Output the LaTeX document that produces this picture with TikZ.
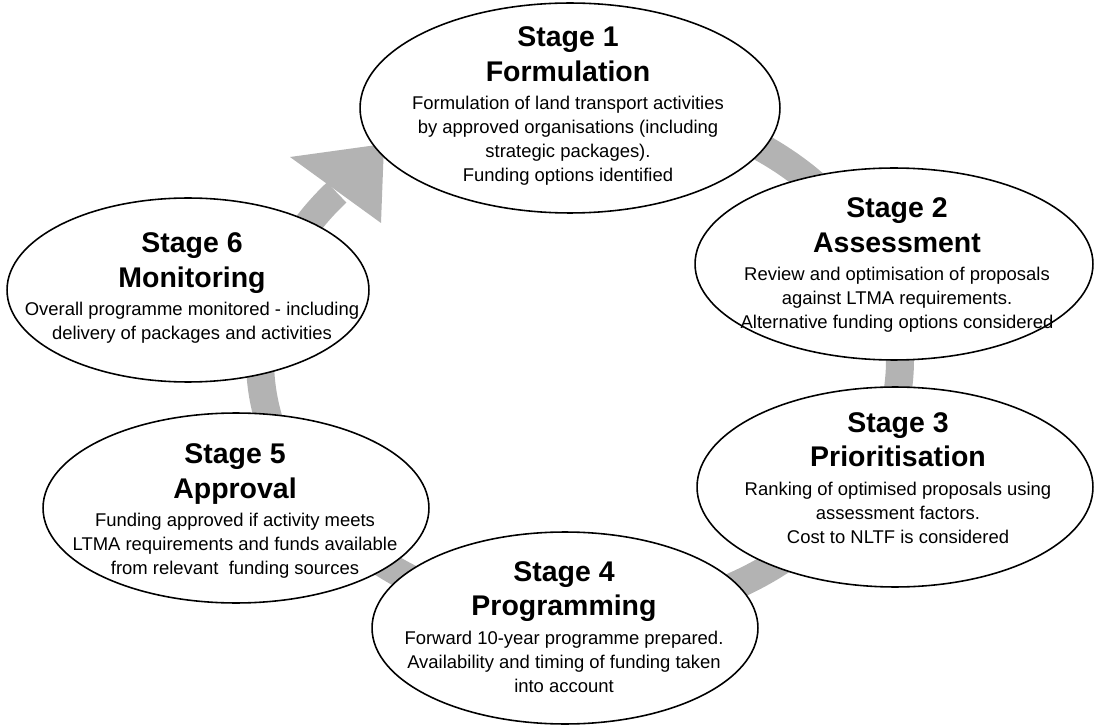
\documentclass[tikz,border=0pt]{standalone}
\usepackage{fontspec}
\setmainfont{Liberation Sans}
\usetikzlibrary{shapes.geometric}

\definecolor{ringgrey}{RGB}{179,179,179}

\newcommand\stghead{\normalfont\fontsize{16.2pt}{19.8pt}\selectfont\bfseries}
\newcommand\stgbody{\normalfont\fontsize{10.5pt}{13.6pt}\selectfont}
% title (two lines) followed by the description
\newcommand\stagetext[3]{%
  \begin{minipage}{9cm}\centering
    \stghead #1\\#2\par
    \vspace{2.8pt}
    \stgbody #3\par
  \end{minipage}}

\tikzset{
  stagebox/.style={ellipse, draw=black, fill=white, line width=0.9pt, inner sep=0pt},
  stagelabel/.style={inner sep=0pt, anchor=center},
  ring/.style={draw=ringgrey, line width=0.56cm, line join=round}
}

\begin{document}
\begin{tikzpicture}[x=0.02cm, y=-0.02cm]
  \useasboundingbox (0,0) rectangle (1096,726);

  % grey cycle band running clockwise, ending in an arrowhead into Stage 1
  \draw[ring] plot[domain=110:-220.5, samples=240, smooth]
    ({580+320*cos(\x)}, {360-258*sin(\x)});
  \fill[ringgrey] (290,157) -- (384,144) -- (381,223) -- cycle;

  % stage ellipses
  \node[stagebox, minimum width=8.4cm,  minimum height=4.2cm]  (s1) at (570,108) {};
  \node[stagebox, minimum width=7.96cm, minimum height=3.84cm] (s2) at (894,264) {};
  \node[stagebox, minimum width=7.92cm, minimum height=4.0cm]  (s3) at (895,487) {};
  \node[stagebox, minimum width=7.72cm, minimum height=3.84cm] (s4) at (565,628) {};
  \node[stagebox, minimum width=7.72cm, minimum height=3.8cm]  (s5) at (236,508) {};
  \node[stagebox, minimum width=7.24cm, minimum height=3.68cm] (s6) at (188,290) {};

  % stage texts
  \node[stagelabel] (t1) at (568,106) {\stagetext{Stage 1}{Formulation}{Formulation of land transport activities\\by approved organisations (including\\strategic packages).\\Funding options identified}};
  \node[stagelabel] (t2) at (897,265) {\stagetext{Stage 2}{Assessment}{Review and optimisation of proposals\\against LTMA requirements.\\Alternative funding options considered}};
  \node[stagelabel] (t3) at (898,478) {\stagetext{Stage 3}{Prioritisation}{Ranking of optimised proposals using\\assessment factors.\\Cost to NLTF is considered}};
  \node[stagelabel] (t4) at (564,627) {\stagetext{Stage 4}{Programming}{Forward 10-year programme prepared.\\Availability and timing of funding taken\\into account}};
  \node[stagelabel] (t5) at (235,511) {\stagetext{Stage 5}{Approval}{Funding approved if activity meets\\LTMA requirements and funds available\\from relevant\ \ funding sources}};
  \node[stagelabel] (t6) at (192,288) {\stagetext{Stage 6}{Monitoring}{Overall programme monitored - including\\delivery of packages and activities}};
\end{tikzpicture}
\end{document}
